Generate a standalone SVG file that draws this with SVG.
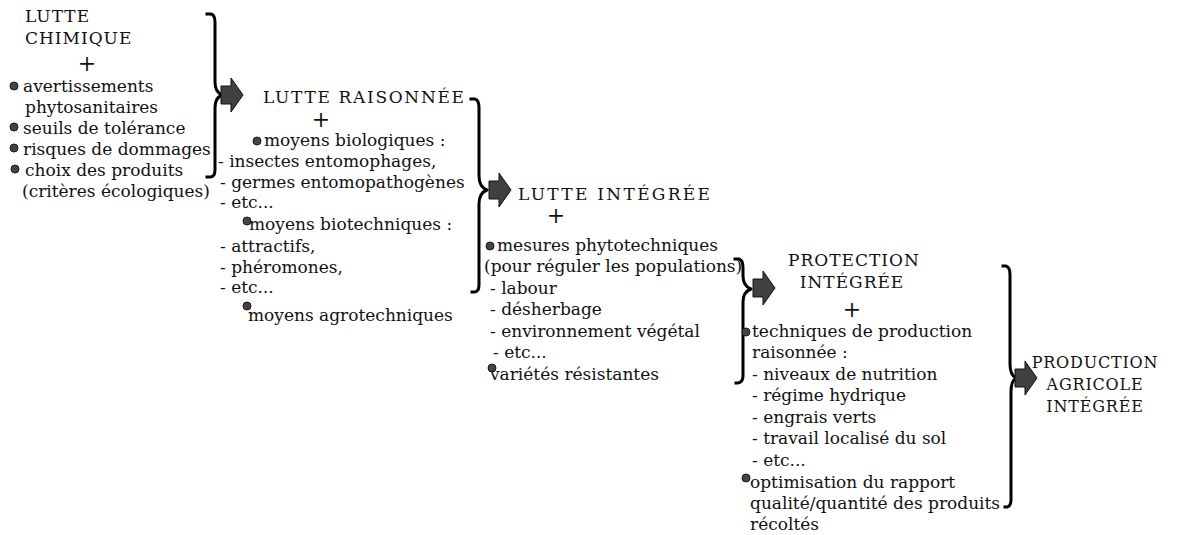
<svg xmlns="http://www.w3.org/2000/svg" width="1179" height="535" viewBox="0 0 1179 535">
<style>
text{font-family:"DejaVu Serif","Liberation Serif",serif;font-size:17px;fill:#111}
.cap{letter-spacing:1px}
.fin{font-size:16px;letter-spacing:0.8px;text-anchor:middle}
.plus{font-size:22px;text-anchor:middle}
.mid{text-anchor:middle}
.brace{fill:none;stroke:#000;stroke-width:3;stroke-linecap:square;stroke-linejoin:round}
.arrow{fill:#404040;stroke:#111;stroke-width:1}
.dot{fill:#444;stroke:#1a1a1a;stroke-width:1}
</style>
<defs>
<polygon id="arr" points="0,-9 10,-9 10,-17 22,0 10,17 10,9 0,9"/>
</defs>
<rect width="1179" height="535" fill="#fff"/>
<g id="connectors">
<path class="brace" d="M207,14 L211,14 Q215,15 215,22 L215,82 Q215,92 222,95 Q215,98 215,108 L215,170 Q215,177 210,177 L207,177"/>
<use href="#arr" class="arrow" x="221" y="95"/>
<path class="brace" d="M471,99 L475,99 Q479,100 479,108 L479,176 Q479,187 487,190 Q479,193 479,204 L479,285 Q479,292 474,292 L472,292"/>
<use href="#arr" class="arrow" x="489" y="190"/>
<path class="brace" d="M735,259 L739,259 Q743,260 743,268 L743,276 Q743,286 751,289 Q743,292 743,302 L743,376 Q743,382 738,383 L736,383"/>
<use href="#arr" class="arrow" x="753" y="288"/>
<path class="brace" d="M1003,266 L1006,266 Q1010,267 1010,275 L1010,364 Q1010,375 1016,378 Q1011,381 1011,392 L1011,500 Q1011,506 1007,507 L1005,507"/>
<use href="#arr" class="arrow" x="1015" y="378"/>
</g>
<g id="node-lutte-chimique">
<text x="25" y="22" class="cap">LUTTE</text>
<text x="25" y="44" class="cap">CHIMIQUE</text>
<text x="87" y="71" class="plus">+</text>
<circle class="dot" cx="14" cy="86" r="4"/>
<text x="23" y="92">avertissements</text>
<text x="25" y="113">phytosanitaires</text>
<circle class="dot" cx="14" cy="127" r="4"/>
<text x="23" y="134">seuils de tolérance</text>
<circle class="dot" cx="14" cy="148" r="4"/>
<text x="23" y="155">risques de dommages</text>
<circle class="dot" cx="15" cy="169" r="4"/>
<text x="25" y="176">choix des produits</text>
<text x="22" y="197">(critères écologiques)</text>
</g>
<g id="node-lutte-raisonnee">
<text x="263" y="103" class="cap" textLength="202" lengthAdjust="spacing">LUTTE RAISONNÉE</text>
<text x="321" y="127" class="plus">+</text>
<circle class="dot" cx="257" cy="141" r="4"/>
<text x="264" y="146">moyens biologiques :</text>
<text x="218" y="167">- insectes entomophages,</text>
<text x="220" y="188">- germes entomopathogènes</text>
<text x="220" y="208">- etc...</text>
<circle class="dot" cx="247" cy="221" r="4"/>
<text x="249" y="230">moyens biotechniques :</text>
<text x="220" y="252">- attractifs,</text>
<text x="220" y="273">- phéromones,</text>
<text x="220" y="293">- etc...</text>
<circle class="dot" cx="247" cy="306" r="4"/>
<text x="248" y="321">moyens agrotechniques</text>
</g>
<g id="node-lutte-integree">
<text x="518" y="200" class="cap" textLength="193" lengthAdjust="spacing">LUTTE INTÉGRÉE</text>
<text x="556" y="223" class="plus">+</text>
<circle class="dot" cx="490" cy="246" r="4"/>
<text x="497" y="251">mesures phytotechniques</text>
<text x="484" y="272">(pour réguler les populations)</text>
<text x="490" y="294">- labour</text>
<text x="490" y="315">- désherbage</text>
<text x="490" y="337">- environnement végétal</text>
<text x="493" y="358">- etc...</text>
<circle class="dot" cx="492" cy="368" r="4"/>
<text x="490" y="380">variétés résistantes</text>
</g>
<g id="node-protection-integree">
<text x="854" y="266" class="cap mid">PROTECTION</text>
<text x="852" y="288" class="cap mid">INTÉGRÉE</text>
<text x="852" y="317" class="plus">+</text>
<circle class="dot" cx="746" cy="332" r="4"/>
<text x="752" y="337">techniques de production</text>
<text x="752" y="358">raisonnée :</text>
<text x="752" y="380">- niveaux de nutrition</text>
<text x="752" y="401">- régime hydrique</text>
<text x="752" y="423">- engrais verts</text>
<text x="752" y="444">- travail localisé du sol</text>
<text x="752" y="466">- etc...</text>
<circle class="dot" cx="746" cy="478" r="4"/>
<text x="750" y="488">optimisation du rapport</text>
<text x="750" y="509">qualité/quantité des produits</text>
<text x="750" y="530">récoltés</text>
</g>
<g id="node-production-agricole">
<text x="1095" y="368" class="fin">PRODUCTION</text>
<text x="1095" y="390" class="fin">AGRICOLE</text>
<text x="1095" y="412" class="fin">INTÉGRÉE</text>
</g>
</svg>
